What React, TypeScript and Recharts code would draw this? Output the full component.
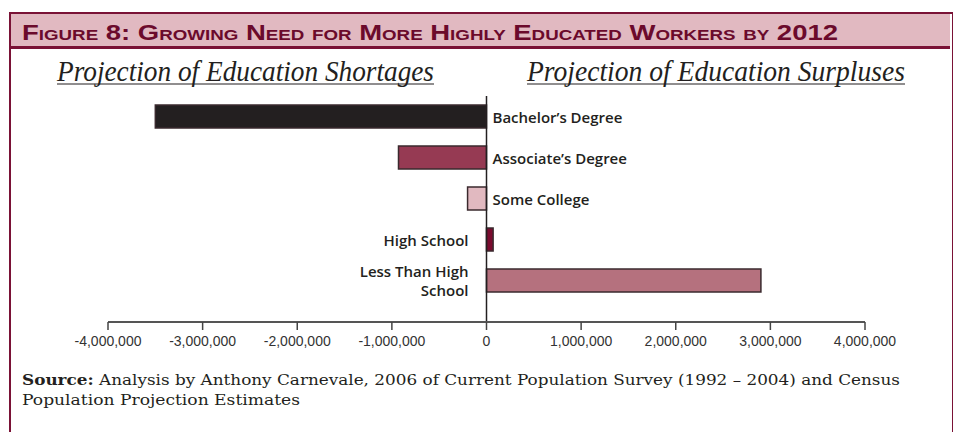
import React from "react";
import { BarChart, Bar, XAxis, YAxis, ReferenceLine, LabelList, Cell } from "recharts";

// categories, top to bottom
const categories = [
  "Bachelor’s Degree",
  "Associate’s Degree",
  "Some College",
  "High School",
  "Less Than High School",
];
// projected shortage (<0) / surplus (>0) of workers by 2012
const shortageSurplus = [-3500000, -930000, -200000, 70000, 2900000];
const xTicks = [-4000000, -3000000, -2000000, -1000000, 0, 1000000, 2000000, 3000000, 4000000];

const barColors = ["#231f20", "#963a53", "#e1b9c0", "#7a0a2e", "#b5717e"];
const maroon = "#7a1236";

const data = categories.map((name, i) => ({ name, value: shortageSurplus[i] }));

const wrap = (s: string, max: number) => {
  const lines: string[] = [];
  let cur = "";
  s.split(" ").forEach((w) => {
    if (cur && (cur + " " + w).length > max) {
      lines.push(cur);
      cur = w;
    } else cur = cur ? cur + " " + w : w;
  });
  if (cur) lines.push(cur);
  return lines;
};

const CategoryLabel = (props: any) => {
  const { x, y, width, height, value } = props;
  const v = shortageSurplus[categories.indexOf(value)];
  const zero = v < 0 ? Math.max(x, x + width) : Math.min(x, x + width);
  const lines = wrap(String(value), 18);
  const lh = 19;
  const cy = y + height / 2;
  const tx = v < 0 ? zero + 6 : zero - 18;
  const y0 = cy - ((lines.length - 1) * lh) / 2;
  return (
    <g>
      {lines.map((l, i) => (
        <text
          key={i}
          x={tx}
          y={y0 + i * lh}
          textAnchor={v < 0 ? "start" : "end"}
          dominantBaseline="central"
          fontFamily="'Open Sans', sans-serif"
          fontWeight={600}
          fontSize={15}
          fill="#231f20"
        >
          {l}
        </text>
      ))}
    </g>
  );
};

export default function App() {
  return (
    <div style={{ position: "absolute", left: 0, top: 0, width: 953, height: 432, background: "#fff", overflow: "hidden" }}>
      {/* frame + title band */}
      <div
        style={{
          position: "absolute",
          left: 9,
          top: 12,
          width: 941,
          height: 440,
          borderLeft: `2px solid ${maroon}`,
          borderRight: `2px solid ${maroon}`,
          borderTop: `2px solid ${maroon}`,
        }}
      />
      <div style={{ position: "absolute", left: 11, top: 14, width: 939, height: 32, background: "#e1b9c1", borderBottom: `3px solid ${maroon}` }} />

      <svg width={953} height={432} style={{ position: "absolute", left: 0, top: 0 }}>
        <text
          x={22}
          y={40}
          textLength={816}
          lengthAdjust="spacingAndGlyphs"
          fontFamily="'Liberation Sans', sans-serif"
          fontWeight={700}
          fontSize={22}
          style={{ fontVariant: "small-caps" }}
          fill="#6b0a2c"
        >
          Figure 8: Growing Need for More Highly Educated Workers by 2012
        </text>

        <text x={57} y={81} textLength={377} lengthAdjust="spacingAndGlyphs" fontFamily="'Liberation Serif', serif" fontStyle="italic" fontSize={29} fill="#231f20">
          Projection of Education Shortages
        </text>
        <line x1={57} x2={434} y1={84} y2={84} stroke="#231f20" strokeWidth={1.2} />
        <text x={527} y={81} textLength={378} lengthAdjust="spacingAndGlyphs" fontFamily="'Liberation Serif', serif" fontStyle="italic" fontSize={29} fill="#231f20">
          Projection of Education Surpluses
        </text>
        <line x1={527} x2={905} y1={84} y2={84} stroke="#231f20" strokeWidth={1.2} />

        <text x={22} y={385} textLength={878} lengthAdjust="spacingAndGlyphs" fontFamily="'DejaVu Serif', serif" fontSize={15} fill="#231f20">
          <tspan fontWeight={700}>Source:</tspan> Analysis by Anthony Carnevale, 2006 of Current Population Survey (1992 – 2004) and Census
        </text>
        <text x={22} y={405} textLength={278} lengthAdjust="spacingAndGlyphs" fontFamily="'DejaVu Serif', serif" fontSize={15} fill="#231f20">
          Population Projection Estimates
        </text>
      </svg>

      <div style={{ position: "absolute", left: 0, top: 0 }}>
        <BarChart
          width={953}
          height={360}
          data={data}
          layout="vertical"
          margin={{ top: 96, right: 88, bottom: 8, left: 108 }}
          barSize={23}
        >
          <XAxis
            type="number"
            dataKey="value"
            domain={[-4000000, 4000000]}
            ticks={xTicks}
            interval={0}
            height={30}
            tickSize={8}
            tickMargin={6}
            axisLine={{ stroke: "#555", strokeWidth: 2 }}
            tickLine={{ stroke: "#444", strokeWidth: 1.5 }}
            tick={{ fill: "#333", fontSize: 14, fontFamily: "'Liberation Sans Narrow', 'Liberation Sans', sans-serif" }}
            tickFormatter={(v: number) => v.toLocaleString("en-US")}
          />
          <YAxis type="category" dataKey="name" hide padding={{ top: 0, bottom: 21 }} />
          <ReferenceLine x={0} stroke="#231f20" strokeWidth={1.5} />
          <Bar dataKey="value" isAnimationActive={false} stroke="#3a2a2e" strokeWidth={1.5}>
            {data.map((d, i) => (
              <Cell key={d.name} fill={barColors[i]} />
            ))}
            <LabelList dataKey="name" content={CategoryLabel} />
          </Bar>
        </BarChart>
      </div>
    </div>
  );
}
